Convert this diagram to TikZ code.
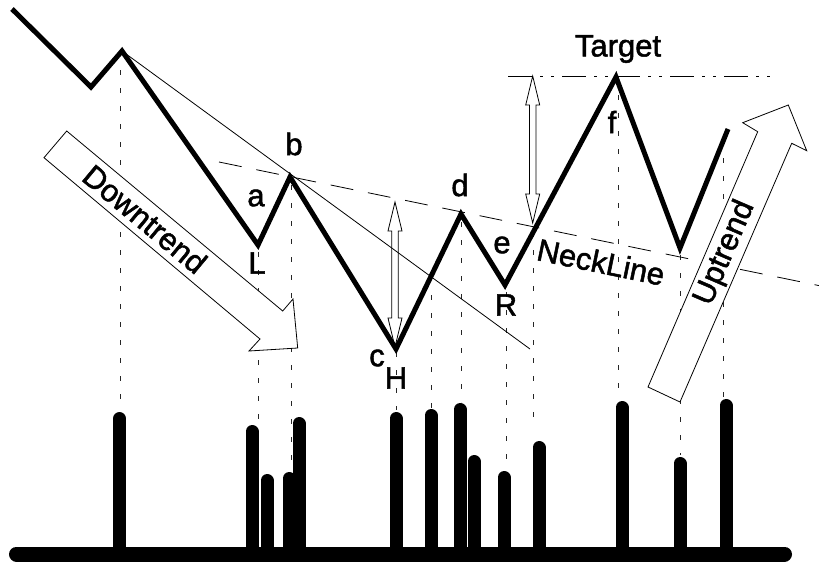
\documentclass[tikz,border=0pt]{standalone}
\usepackage{fontspec}
\setmainfont{Liberation Sans}
\newfontfamily\lblfont{Liberation Sans}[FakeBold=1.6]
\newcommand{\hollowdbl}[3]{%
  \draw[hollow] (#1,#2) -- ({#1+7},{#2+29}) -- ({#1+3.3},{#2+29}) -- ({#1+3.3},{#3-29})
    -- ({#1+7},{#3-29}) -- (#1,#3) -- ({#1-7},{#3-29}) -- ({#1-3.3},{#3-29})
    -- ({#1-3.3},{#2+29}) -- ({#1-7},{#2+29}) -- cycle;}
\begin{document}
\begin{tikzpicture}[x=1pt,y=-1pt,
  price/.style={line width=5pt, line join=miter},
  barline/.style={line width=13pt, line cap=round},
  guide/.style={line width=0.9pt, dash pattern=on 5pt off 13pt, black!85},
  thinline/.style={line width=0.8pt},
  neck/.style={line width=0.8pt, dash pattern=on 23pt off 15pt},
  targetline/.style={line width=0.8pt, dash pattern=on 24pt off 8pt on 3pt off 8pt on 3pt off 8pt},
  lbl/.style={font=\lblfont\fontsize{31}{31}\selectfont, inner sep=0pt},
  hollow/.style={draw, line width=0.8pt, line join=miter},
  blockarrow/.style={draw, line width=0.8pt, fill=white, line join=miter},
]
\useasboundingbox (0,0) rectangle (819,562);

% price points
\coordinate (p0) at (12,9);
\coordinate (p1) at (91,87);
\coordinate (p2) at (122,51);
\coordinate (pL) at (258,245);
\coordinate (pb) at (290,177);
\coordinate (pH) at (396,349);
\coordinate (pd) at (461,214);
\coordinate (pR) at (505,285);
\coordinate (pf) at (616,77);
\coordinate (pg) at (680,248);
\coordinate (pe) at (728,129);

% vertical guides
\foreach \gx/\gt/\gb [count=\i] in {120/70/410, 258/252/423, 291/185/470, 396/352/410,
   431/295/408, 461/222/402, 506/292/463, 533/232/427, 618/95/398, 680/255/455, 723/140/397}{
  \coordinate (gt\i) at (\gx,\gt);
  \coordinate (gb\i) at (\gx,\gb);
  \draw[guide] (gt\i) -- (gb\i);
}

% neckline, trendline, target line
\coordinate (n0) at (219,162);
\coordinate (n1) at (819,285.6);
\draw[neck] (n0) -- (n1);
\coordinate (t1) at (530,349);
\draw[thinline] (p2) -- (t1);
\coordinate (tl0) at (508,76);
\coordinate (tl1) at (770,76);
\draw[targetline] (tl0) -- (tl1);

% block arrows
\draw[blockarrow] (66.7,131) -- (282.7,311) -- (293,299) -- (297.7,348) -- (249,351)
   -- (260,339) -- (44,157.7) -- cycle;
\node[lbl, rotate=-39.8] (down) at (145,219) {Downtrend};
\draw[blockarrow] (680,402) -- (791.7,143.3) -- (806.7,150.7) -- (788.3,105) -- (742.7,122.7)
   -- (757.7,131.7) -- (648,387) -- cycle;
\node[lbl, rotate=66.7] (up) at (725,253) {Uptrend};

% price line
\draw[price] (p0) -- (p1) -- (p2) -- (pL) -- (pb) -- (pH) -- (pd) -- (pR) -- (pf) -- (pg) -- (pe);

% hollow double arrows
\hollowdbl{395}{202}{347}
\hollowdbl{532.7}{76}{223}

% volume bars
\foreach \bx/\bt [count=\j] in {119.5/412, 252/425, 267/474, 289/472, 299/417, 396/412, 431/409,
   460/403, 474/455, 504/471, 539/441, 622/401, 680/457, 726/399}{
  \coordinate (bt\j) at (\bx,{\bt+6.5});
  \coordinate (bb\j) at (\bx,550);
  \draw[barline] (bt\j) -- (bb\j);
}
\coordinate (base0) at (16.5,554);
\coordinate (base1) at (784.5,554);
\draw[line width=15pt, line cap=round] (base0) -- (base1);

% labels
\node[lbl] (la) at (256,198) {a};
\node[lbl] (lb) at (294,144) {b};
\node[lbl] (lL) at (257,263) {L};
\node[lbl] (lc) at (377,358) {c};
\node[lbl] (lH) at (396,378) {H};
\node[lbl] (ld) at (460,185) {d};
\node[lbl] (le) at (502,245) {e};
\node[lbl] (lR) at (506,305) {R};
\node[lbl] (ltarget) at (618,49) {Target};
\node[lbl] (lf) at (612,122) {f};
\node[lbl, rotate=-11.6] (lneck) at (601,262) {NeckLine};
\end{tikzpicture}
\end{document}
